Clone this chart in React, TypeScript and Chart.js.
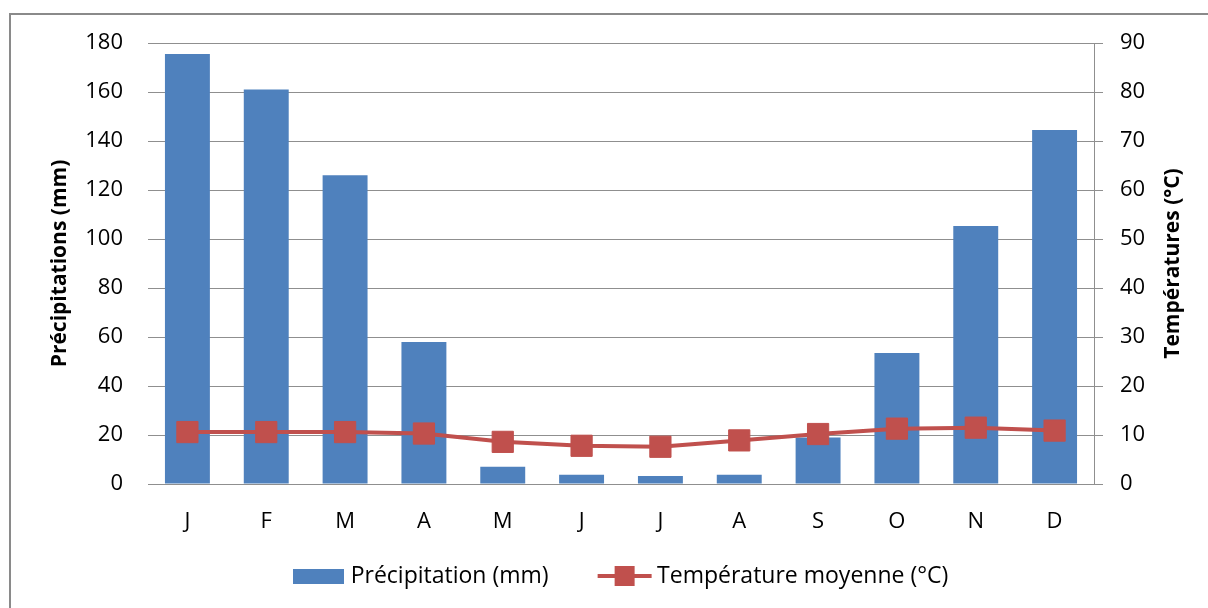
import React, { useEffect, useRef } from 'react';
import { Chart, registerables } from 'chart.js';

Chart.register(...registerables);

// ---- Data ----
const categories = ['J', 'F', 'M', 'A', 'M', 'J', 'J', 'A', 'S', 'O', 'N', 'D'];
const precipitation = [175.5, 161, 126, 58, 7, 3.8, 3.3, 3.8, 19, 53.5, 105.3, 144.5];
const temperature = [10.6, 10.6, 10.6, 10.3, 8.6, 7.8, 7.6, 8.9, 10.2, 11.3, 11.5, 10.9];
const precipAxis = [0, 180, 20]; // min, max, step
const tempAxis = [0, 90, 10];
const seriesLabels = ['Précipitation (mm)', 'Température moyenne (°C)'];
const axisTitles = ['Précipitations (mm)', 'Températures (°C)'];

const BLUE = '#4F81BD';
const RED = '#C0504D';
const GRID = '#8f8f8f';
const FONT = '"Open Sans", "DejaVu Sans", sans-serif';

function makeBarSwatch(): HTMLCanvasElement {
  const c = document.createElement('canvas');
  c.width = 51;
  c.height = 15;
  const g = c.getContext('2d')!;
  g.fillStyle = BLUE;
  g.fillRect(0, 0, 51, 15);
  return c;
}

function makeLineSwatch(): HTMLCanvasElement {
  const c = document.createElement('canvas');
  c.width = 56;
  c.height = 22;
  const g = c.getContext('2d')!;
  g.strokeStyle = RED;
  g.lineWidth = 4;
  g.beginPath();
  g.moveTo(1, 11);
  g.lineTo(55, 11);
  g.stroke();
  g.fillStyle = RED;
  g.fillRect(18, 1, 20, 20);
  return c;
}

const rightTitlePlugin = {
  id: 'rightTitle',
  afterLayout(chart: any) {
    // let the category labels draw below the (short) x scale box
    const x = chart.scales.x;
    if (x) x.bottom = chart.height;
  },
  afterDraw(chart: any) {
    const { ctx, chartArea, scales } = chart;
    const x = scales.y1.right - 15;
    const y = (chartArea.top + chartArea.bottom) / 2;
    ctx.save();
    ctx.translate(x, y);
    ctx.rotate(-Math.PI / 2);
    ctx.font = `bold 21px ${FONT}`;
    ctx.fillStyle = '#000';
    ctx.textAlign = 'center';
    ctx.textBaseline = 'middle';
    ctx.fillText(axisTitles[1], 0, 0);
    ctx.restore();
  },
};

export default function App() {
  const ref = useRef<HTMLCanvasElement | null>(null);

  useEffect(() => {
    if (!ref.current) return;
    const barSwatch = makeBarSwatch();
    const lineSwatch = makeLineSwatch();

    const chart = new Chart(ref.current, {
      type: 'bar',
      data: {
        labels: categories,
        datasets: [
          {
            type: 'line',
            label: seriesLabels[1],
            data: temperature,
            yAxisID: 'y1',
            borderColor: RED,
            backgroundColor: RED,
            borderWidth: 4,
            pointStyle: 'rect',
            pointRadius: 15,
            pointBackgroundColor: RED,
            pointBorderColor: RED,
            pointBorderWidth: 1,
            tension: 0,
            order: 0,
          } as any,
          {
            type: 'bar',
            label: seriesLabels[0],
            data: precipitation,
            yAxisID: 'y',
            backgroundColor: BLUE,
            borderWidth: 0,
            barPercentage: 0.57,
            categoryPercentage: 1,
            order: 1,
          } as any,
        ],
      },
      plugins: [rightTitlePlugin],
      options: {
        responsive: false,
        animation: false,
        devicePixelRatio: 1,
        events: [],
        font: { family: FONT },
        layout: { padding: { left: 57.5, right: 20, top: 43, bottom: 10.5 } },
        plugins: {
          tooltip: { enabled: false },
          title: { display: false },
          legend: {
            display: true,
            position: 'bottom',
            labels: {
              usePointStyle: true,
              pointStyleWidth: 42,
              padding: 55,
              color: '#000',
              font: { family: FONT, size: 23 },
              generateLabels: () => [
                {
                  text: seriesLabels[0],
                  pointStyle: barSwatch,
                  fillStyle: BLUE,
                  strokeStyle: BLUE,
                  lineWidth: 0,
                  hidden: false,
                  datasetIndex: 1,
                  fontColor: '#000',
                } as any,
                {
                  text: seriesLabels[1],
                  pointStyle: lineSwatch,
                  fillStyle: RED,
                  strokeStyle: RED,
                  lineWidth: 0,
                  hidden: false,
                  datasetIndex: 0,
                  fontColor: '#000',
                } as any,
              ],
            },
          },
        },
        scales: {
          x: {
            grid: { display: false },
            border: { display: false },
            ticks: { color: '#000', padding: 17, font: { family: FONT, size: 22 } },
            afterFit: (s: any) => {
              s.height = 25.5;
            },
          },
          y: {
            position: 'left',
            min: precipAxis[0],
            max: precipAxis[1],
            ticks: {
              stepSize: precipAxis[2],
              color: '#000',
              padding: 25,
              font: { family: FONT, size: 22 },
            },
            grid: { color: GRID, lineWidth: 1, drawTicks: false },
            border: { display: false },
            title: {
              display: true,
              text: axisTitles[0],
              color: '#000',
              font: { family: FONT, size: 21, weight: 'bold' },
              padding: { top: -10.1, bottom: 0 },
            },
            afterFit: (s: any) => {
              s.width = 90.5;
            },
          },
          y1: {
            position: 'right',
            min: tempAxis[0],
            max: tempAxis[1],
            ticks: {
              stepSize: tempAxis[2],
              color: '#000',
              padding: 17,
              font: { family: FONT, size: 22 },
            },
            grid: { color: GRID, lineWidth: 1, drawOnChartArea: false, drawTicks: true, tickLength: 9 },
            border: { display: true, color: GRID, width: 1 },
            afterFit: (s: any) => {
              s.width = 94;
            },
          },
        },
      } as any,
    });

    return () => chart.destroy();
  }, []);

  return (
    <div style={{ position: 'fixed', left: 0, top: 0, width: 1208, height: 608, overflow: 'hidden', background: '#fff' }}>
      <div
        style={{
          position: 'absolute',
          left: 9,
          top: 13,
          width: 1300,
          height: 700,
          border: '2px solid #8a8a8a',
          boxSizing: 'border-box',
        }}
      />
      <canvas ref={ref} width={1208} height={608} style={{ position: 'absolute', left: 0, top: 0, width: 1208, height: 608 }} />
    </div>
  );
}
